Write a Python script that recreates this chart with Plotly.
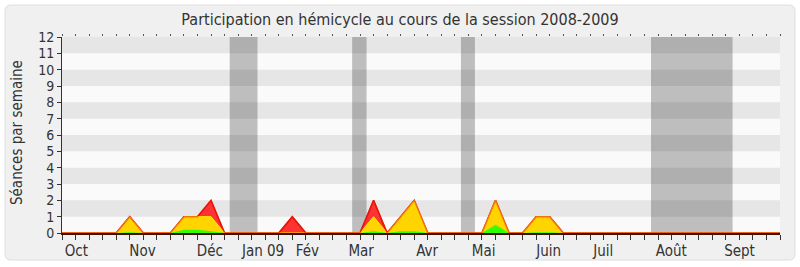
import plotly.graph_objects as go

# ---- data (one value per week, week 0 = first week of October 2008) ----
weeks = list(range(54))
presences = [0, 0, 0, 0, 0, 1, 0, 0, 0, 1,
             1, 2, 0, 0, 0, 0, 0, 1, 0, 0,
             0, 0, 0, 2, 0, 1, 2, 0, 0, 0,
             0, 0, 2, 0, 0, 1, 1, 0, 0, 0,
             0, 0, 0, 0, 0, 0, 0, 0, 0, 0,
             0, 0, 0, 0]
interventions = [0, 0, 0, 0, 0, 1, 0, 0, 0, 1,
                 1, 1, 0, 0, 0, 0, 0, 0, 0, 0,
                 0, 0, 0, 1, 0, 1, 2, 0, 0, 0,
                 0, 0, 2, 0, 0, 1, 1, 0, 0, 0,
                 0, 0, 0, 0, 0, 0, 0, 0, 0, 0,
                 0, 0, 0, 0]
questions = [0, 0, 0, 0, 0, 0.05, 0, 0, 0, 0.2,
             0.2, 0.1, 0, 0, 0, 0, 0, 0, 0, 0,
             0, 0, 0, 0.1, 0, 0.1, 0.1, 0, 0, 0,
             0, 0, 0.5, 0, 0, 0.05, 0.05, 0, 0, 0,
             0, 0, 0, 0, 0, 0, 0, 0, 0, 0,
             0, 0, 0, 0]
month_labels = ["Oct", "Nov", "Déc", "Jan 09", "Fév", "Mar", "Avr", "Mai",
                "Juin", "Juil", "Août", "Sept"]
month_pos = [1.06, 5.94, 10.91, 14.84, 18.12, 22.08, 26.95, 31.12,
             35.93, 39.96, 44.97, 50.01]
vacances_start = [12.38, 21.42, 29.45, 43.48]
vacances_end = [14.43, 22.48, 30.48, 49.5]
y_max = 12

FONT = "DejaVu Sans Condensed, DejaVu Sans"

fig = go.Figure()
fig.add_trace(go.Scatter(x=weeks, y=presences, mode="lines", fill="tozeroy",
                         fillcolor="rgb(255,51,51)",
                         line=dict(color="rgb(230,0,0)", width=1.5),
                         hoverinfo="skip"))
fig.add_trace(go.Scatter(x=weeks, y=interventions, mode="lines", fill="tozeroy",
                         fillcolor="rgb(255,212,0)",
                         line=dict(color="rgb(255,240,0)", width=1),
                         hoverinfo="skip"))
fig.add_trace(go.Scatter(x=weeks, y=questions, mode="lines", fill="tozeroy",
                         fillcolor="rgb(51,255,0)",
                         line=dict(color="rgb(51,255,0)", width=0),
                         hoverinfo="skip"))
fig.add_trace(go.Scatter(x=weeks, y=presences, mode="lines",
                         line=dict(color="rgba(235,40,0,0.55)", width=1.5),
                         hoverinfo="skip"))
# invisible trace for the top tick axis
fig.add_trace(go.Scatter(x=[0], y=[0], xaxis="x2", mode="markers",
                         marker=dict(opacity=0), hoverinfo="skip"))

shapes = []
# outer rounded frame (pixels, anchored at the bottom-left of the plot area)
L, R, B, T, r = -57, 733, -27, 228, 6
path = (f"M {L+r},{B} L {R-r},{B} Q {R},{B} {R},{B+r} L {R},{T-r} Q {R},{T} {R-r},{T} "
        f"L {L+r},{T} Q {L},{T} {L},{T-r} L {L},{B+r} Q {L},{B} {L+r},{B} Z")
shapes.append(dict(type="path", xref="paper", yref="paper", xsizemode="pixel",
                   ysizemode="pixel", xanchor=0, yanchor=0, path=path,
                   fillcolor="#f0f0f0", line=dict(color="#dedede", width=1),
                   layer="below"))
# plot background
shapes.append(dict(type="rect", xref="x", yref="y", x0=weeks[0], x1=weeks[-1],
                   y0=0, y1=y_max, fillcolor="#fafafa", line=dict(width=0),
                   layer="below"))
for a, b in zip(vacances_start, vacances_end):
    shapes.append(dict(type="rect", xref="x", yref="y", x0=a, x1=b, y0=0, y1=y_max,
                       fillcolor="#bebebe", line=dict(width=0), layer="below"))
for k in range(1, y_max, 2):
    shapes.append(dict(type="rect", xref="x", yref="y", x0=0, x1=53, y0=k, y1=k + 1,
                       fillcolor="rgba(0,0,0,0.08)", line=dict(width=0),
                       layer="below"))

fig.update_layout(
    width=800, height=267,
    margin=dict(l=62, r=20, t=37, b=34),
    paper_bgcolor="white", plot_bgcolor="rgba(0,0,0,0)",
    showlegend=False,
    font=dict(family=FONT, size=15, color="#333333"),
    title=dict(text="Participation en hémicycle au cours de la session 2008-2009",
               x=0.5, xref="container", xanchor="center",
               y=1 - 19 / 267, yref="container", yanchor="middle",
               font=dict(family=FONT, size=16, color="#333333")),
    shapes=shapes,
    xaxis=dict(range=[0, 53], tickmode="array", tickvals=month_pos,
               ticktext=month_labels, ticks="outside", ticklen=3,
               tickcolor="rgba(0,0,0,0)", showline=True, linecolor="#3a1208",
               linewidth=1.5, showgrid=False, zeroline=False, fixedrange=True,
               automargin=False,
               tickfont=dict(family=FONT, size=15, color="#333333"),
               minor=dict(tickmode="array", tickvals=weeks, ticks="outside",
                          ticklen=5, tickcolor="#333333", showgrid=False)),
    xaxis2=dict(range=[0, 53], overlaying="x", side="top", tickmode="array",
                tickvals=weeks, ticks="outside", ticklen=2, tickcolor="#555555",
                showticklabels=False, showline=False, showgrid=False,
                zeroline=False, automargin=False),
    yaxis=dict(range=[0, y_max], tickmode="linear", tick0=0, dtick=1,
               ticks="outside", ticklen=4, tickcolor="#333333", showline=True,
               linecolor="#333333", showgrid=False, zeroline=False,
               automargin=False,
               tickfont=dict(family=FONT, size=14, color="#333333")),
    annotations=[dict(text="Séances par semaine", xref="paper", yref="paper",
                      x=0, y=0.5, xanchor="center", yanchor="middle",
                      xshift=-45, yshift=2, textangle=-90, showarrow=False,
                      font=dict(family=FONT, size=15, color="#333333"))],
)

fig.write_html("out.html")
